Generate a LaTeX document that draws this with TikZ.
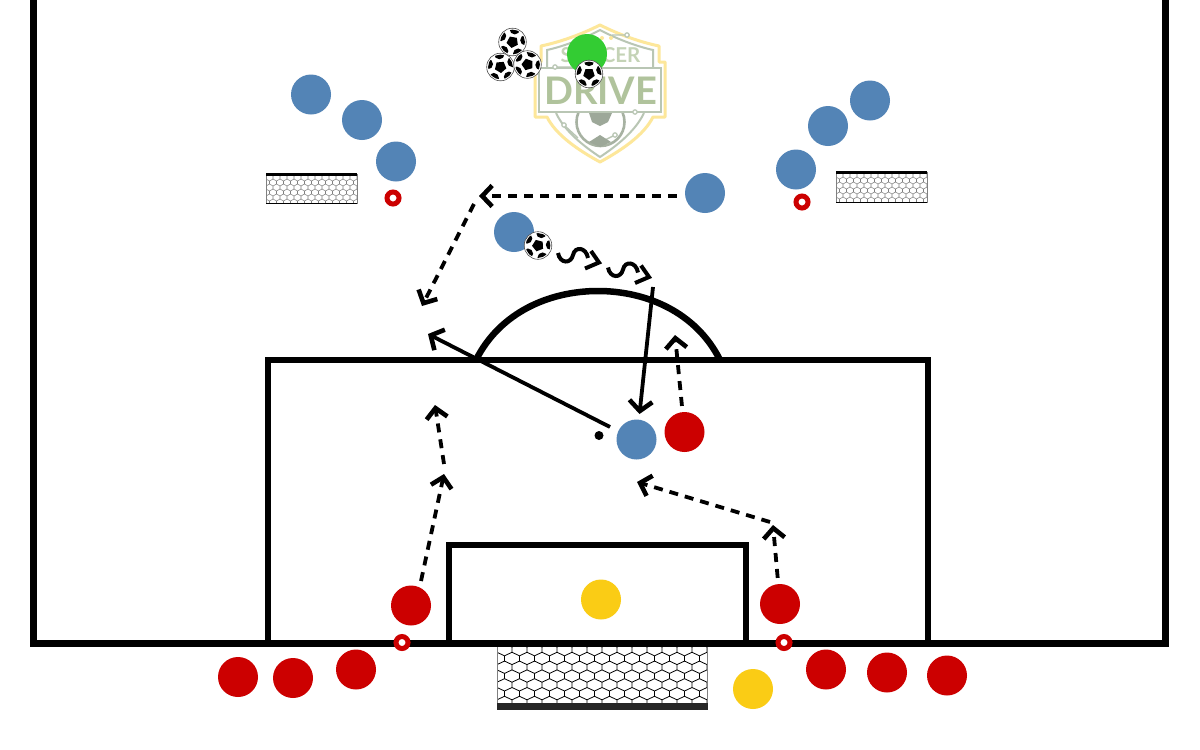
\documentclass[tikz,border=0pt]{standalone}
\usepackage{fontspec}
\setmainfont{Lato}
\usetikzlibrary{arrows.meta,calc}
\definecolor{bluep}{HTML}{5384B6}
\definecolor{redp}{HTML}{CC0000}
\definecolor{yellowp}{HTML}{FACC15}
\definecolor{greenp}{HTML}{33CC33}
\definecolor{logoY}{HTML}{FDE79A}
\definecolor{logoG}{HTML}{B9C6B4}
\definecolor{logoT}{HTML}{B0C39C}
\definecolor{logoS}{HTML}{C4D3B6}
\tikzset{
  player/.style={circle,fill=#1,draw=none,minimum size=40pt,inner sep=0pt},
  cone/.style={circle,draw=redp,fill=white,line width=5pt,minimum size=12pt,inner sep=0pt},
  pitchline/.style={draw=black,line width=7pt,line cap=butt,line join=miter},
  boxline/.style={draw=black,line width=6.5pt,line join=miter},
  runarrow/.style={draw=black,line width=3.8pt,dash pattern=on 9pt off 7pt,-{Straight Barb[length=10pt,width=21pt,line width=4.6pt]}},
  passarrow/.style={draw=black,line width=3.8pt,-{Straight Barb[length=10pt,width=23pt,line width=4.6pt]}},
  wavestroke/.style={draw=black,line width=4pt,line join=miter},
  pics/soccerball/.style={code={
    \draw[black!70,line width=.6pt,fill=white] (0,0) circle (13.8);
    \begin{scope}
      \clip (0,0) circle (12.4);
      \fill[black] (90+#1:6) -- (162+#1:6) -- (234+#1:6) -- (306+#1:6) -- (18+#1:6) -- cycle;
      \foreach \a in {54,126,198,270,342}{
        \fill[black] (\a+#1:13) circle (5.2);
      }
    \end{scope}
  }},
  pics/wavemark/.style={code={
    \draw[wavestroke] (0,0) .. controls (2,11) and (13,11) .. (15,2) .. controls (17,-7) and (28,-6) .. (30,5);
    \draw[wavestroke] (33,-2) -- (41,9.5) -- (27,15.5);
  }}
}
\newcommand{\hexnet}[7]{%
  \begin{scope}
    \clip (#1,#2) rectangle (#3,#4);
    \pgfmathtruncatemacro{\nrows}{(#4-#2)/#6+1}
    \pgfmathtruncatemacro{\ncols}{(#3-#1)/#5+1}
    \foreach \j in {0,...,\nrows}{
      \foreach \k in {-1,...,\ncols}{
        \pgfmathsetmacro{\xx}{#1+\k*#5+mod(\j,2)*#5/2}
        \pgfmathsetmacro{\yy}{#2+\j*#6}
        \draw[#7] (\xx,\yy) -- ++(#5/2,-#6*0.4) -- ++(#5/2,#6*0.4) ++(-#5,0) -- ++(0,#6*0.6);
      }
    }
  \end{scope}%
}
\begin{document}
\begin{tikzpicture}[x=1pt,y=-1pt]
\useasboundingbox (0,0) rectangle (1200,750);
\fill[white] (0,0) rectangle (1200,750);
% logo
\draw[logoY,line width=3pt,line join=round] (600,25) .. controls (580,35) and (560,42) .. (541,46) -- (541,62) -- (535,62) -- (535,117) -- (547,117) .. controls (556,135) and (578,150) .. (600,162) .. controls (622,150) and (644,135) .. (653,117) -- (665,117) -- (665,62) -- (659,62) -- (659,46) .. controls (640,42) and (620,35) .. (600,25) -- cycle;
\draw[logoG,line width=2pt] (547,67) -- (547,50) .. controls (565,46) and (585,38) .. (600,30) .. controls (615,38) and (635,46) .. (653,50) -- (653,67);
\draw[logoG,line width=2.2pt] (539,68) rectangle (661,112);
\draw[logoG,line width=2pt] (556,113) .. controls (565,132) and (585,147) .. (600,157) .. controls (615,147) and (635,132) .. (644,113);
\draw[logoG,line width=1.4pt] (555,67) -- (575,67) (627,35) -- (612,35) (635,112) -- (620,112) (564,125) -- (578,138) (615,135) -- (605,140);
\foreach \p in {(555,67),(627,35),(635,112),(564,125),(615,135)}{
  \draw[logoG,line width=1.2pt,fill=white] \p circle (2.2);
}
\begin{scope}
  \clip (570,113) rectangle (630,150);
  \draw[logoG!90!black,line width=2.6pt] (600.5,122) circle (24);
  \fill[logoG!85!black] (600,111) -- (612,113) -- (608,122) -- (600,126) -- (592,122) -- (589,113) -- cycle;
  \fill[logoG!85!black] (600,135) -- (611,142) -- (600,147) -- (589,142) -- cycle;
\end{scope}
\fill[logoY] (602,38) circle (2) (611,38) circle (2);
\node[text=logoS,font=\bfseries\fontsize{20.5}{20.5}\selectfont,inner sep=0pt] (logosoccer) at (600.5,55) {SOCCER};
\node[text=logoT,font=\bfseries\fontsize{38}{38}\selectfont,inner sep=0pt] (logodrive) at (600.5,91) {DRIVE};
% pitch
\draw[pitchline] (33,0) -- (33,643) -- (1165,643) -- (1165,0);
\draw[boxline] (268,643) -- (268,360) -- (928,360) -- (928,643);
\draw[boxline] (449,643) -- (449,545) -- (746,545) -- (746,643);
\draw[boxline] (476,360) .. controls (500,312) and (550,291) .. (598,291) .. controls (646,291) and (696,312) .. (720,360);
% nets
\hexnet{266}{176}{357}{203}{7}{5}{draw=gray,line width=.55pt}
\draw[gray,line width=.7pt] (266,174) -- (266,203) -- (357,203) -- (357,174);
\draw[black,line width=3pt] (266,174.5) -- (357,174.5);
\draw[black,line width=.8pt] (266,203) -- (357,203);
\hexnet{836}{174}{927}{202}{7}{5}{draw=gray,line width=.55pt}
\draw[gray,line width=.7pt] (836,172) -- (836,202) -- (927,202) -- (927,172);
\draw[black,line width=3pt] (836,172.5) -- (927,172.5);
\draw[black,line width=.8pt] (836,202) -- (927,202);
\hexnet{497}{647}{707}{703}{15}{8.8}{draw=black,line width=.8pt}
\draw[gray,line width=1pt] (497,647) -- (497,709) (707,647) -- (707,709);
\fill[black!85] (496.5,703) rectangle (707.5,709.5);
% cones
\node[cone] (coneA) at (393,198) {};
\node[cone] (coneB) at (802,202) {};
\node[cone] (coneC) at (402,642.5) {};
\node[cone] (coneD) at (784,642.5) {};
% players
\node[player=greenp] (keepertop) at (587,54) {};
\node[player=bluep] (b1) at (311,94.5) {};
\node[player=bluep] (b2) at (362,120) {};
\node[player=bluep] (b3) at (396,161.5) {};
\node[player=bluep] (b4) at (705,193) {};
\node[player=bluep] (b5) at (514,232) {};
\node[player=bluep] (b6) at (636.5,439.5) {};
\node[player=bluep] (b7) at (796,169.5) {};
\node[player=bluep] (b8) at (828,126) {};
\node[player=bluep] (b9) at (870,100.5) {};
\node[player=redp] (r1) at (684.5,432) {};
\node[player=redp] (r2) at (411,605.5) {};
\node[player=redp] (r3) at (780,604) {};
\node[player=redp] (r4) at (238,677) {};
\node[player=redp] (r5) at (293,678) {};
\node[player=redp] (r6) at (356,669.5) {};
\node[player=redp] (r7) at (826,669.5) {};
\node[player=redp] (r8) at (887,672.5) {};
\node[player=redp] (r9) at (947,675.5) {};
\node[player=yellowp] (y1) at (601,599.5) {};
\node[player=yellowp] (y2) at (753,689) {};
% balls
\pic at (512.5,42) {soccerball=10};
\pic at (500.5,67) {soccerball=-5};
\pic at (527.5,64.5) {soccerball=20};
\pic at (589,74) {soccerball=0};
\pic at (538,245.5) {soccerball=15};
% wave run
\pic at (558,253) {wavemark};
\pic at (608,267.5) {wavemark};
% connector ends
\coordinate (c1) at (479,196);
\coordinate (c1s) at (474,204);
\coordinate (c2) at (422,306);
\coordinate (c3) at (675,335);
\coordinate (c4s0) at (421,581);
\coordinate (c4) at (444,474);
\coordinate (c4s) at (444,464);
\coordinate (c5) at (435,405);
\coordinate (c6) at (773,525);
\coordinate (c6s) at (770,522);
\coordinate (c7) at (637,482);
\coordinate (s1) at (653,287);
\coordinate (s2) at (639.5,414);
\coordinate (s3) at (610,427);
\coordinate (s4) at (428,334);
\node[circle,fill=black,minimum size=9pt,inner sep=0pt] (dot) at (599,435.5) {};
% connectors
\draw[runarrow,shorten <=8pt] (b4.west |- c1) -- (c1);
\draw[runarrow] (c1s) -- (c2);
\draw[runarrow,shorten <=6pt] (r1) -- (c3);
\draw[runarrow] (c4s0) -- (c4);
\draw[runarrow] (c4s) -- (c5);
\draw[runarrow,shorten <=6pt] (r3) -- (c6);
\draw[runarrow] (c6s) -- (c7);
\draw[passarrow] (s1) -- (s2);
\draw[passarrow] (s3) -- (s4);
\end{tikzpicture}
\end{document}
